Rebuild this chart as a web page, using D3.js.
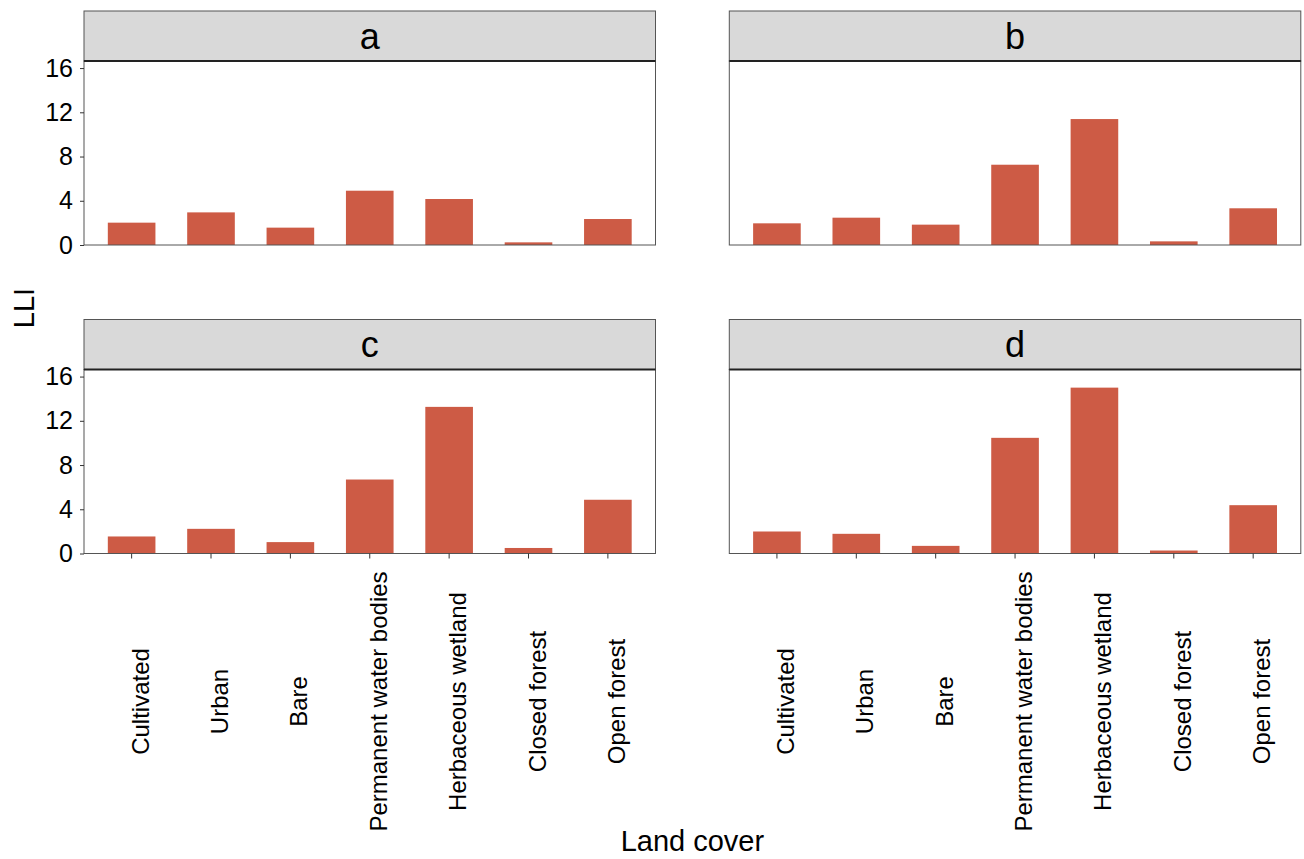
<!DOCTYPE html>
<html>
<head>
<meta charset="utf-8">
<script src="https://cdn.jsdelivr.net/npm/d3@7"></script>
<style>
  body { margin: 0; background: #fff; }
  text { font-family: "Liberation Sans", Arial, sans-serif; fill: #000; }
</style>
</head>
<body>
<div class="chart"></div>
<script>
var svgWidth = 1304;
var svgHeight = 859;

// data
var categories = ["Cultivated", "Urban", "Bare", "Permanent water bodies",
  "Herbaceous wetland", "Closed forest", "Open forest"];
var panelNames = ["a", "b", "c", "d"];
var valuesA = [2.02, 2.95, 1.57, 4.91, 4.16, 0.24, 2.35];
var valuesB = [1.96, 2.47, 1.84, 7.26, 11.39, 0.33, 3.32];
var valuesC = [1.54, 2.23, 1.03, 6.69, 13.26, 0.50, 4.86];
var valuesD = [1.99, 1.78, 0.69, 10.46, 15.0, 0.27, 4.37];
var yTicks = [0, 4, 8, 12, 16];

var panelValues = [valuesA, valuesB, valuesC, valuesD];

// layout
var colLeft = [84, 729.3];
var panelW = 571.5;
var stripTop = [11, 319.5];
var stripH = 50;
var plotH = 184;
var barColor = "#CD5B45";

var svg = d3.select(".chart")
  .append("svg")
  .attr("width", svgWidth)
  .attr("height", svgHeight);

var xScale = d3.scaleBand()
  .domain(categories)
  .range([0, panelW])
  .paddingInner(0.4)
  .paddingOuter(0.3);

var yScale = d3.scaleLinear()
  .domain([0, 16.64])
  .range([plotH, 0]);

panelNames.forEach(function(name, i) {
  var col = i % 2;
  var row = Math.floor(i / 2);
  var x0 = colLeft[col];
  var y0 = stripTop[row];

  var g = svg.append("g")
    .attr("transform", `translate(${x0}, ${y0})`);

  // strip
  g.append("rect")
    .attr("x", 0)
    .attr("y", 0)
    .attr("width", panelW)
    .attr("height", stripH)
    .attr("fill", "#d9d9d9")
    .attr("stroke", "#555")
    .attr("stroke-width", 1);

  g.append("text")
    .attr("x", panelW / 2)
    .attr("y", stripH / 2)
    .attr("dy", "0.35em")
    .attr("text-anchor", "middle")
    .style("font-size", "36px")
    .text(name);

  var plot = g.append("g")
    .attr("transform", `translate(0, ${stripH})`);

  // bars
  plot.selectAll("rect.bar")
    .data(panelValues[i])
    .enter()
    .append("rect")
    .attr("class", "bar")
    .attr("x", (d, j) => xScale(categories[j]))
    .attr("y", d => yScale(d))
    .attr("width", xScale.bandwidth())
    .attr("height", d => plotH - yScale(d))
    .attr("fill", barColor);

  // panel border
  plot.append("rect")
    .attr("width", panelW)
    .attr("height", plotH)
    .attr("fill", "none")
    .attr("stroke", "#555")
    .attr("stroke-width", 1);

  // strip bottom line
  plot.append("line")
    .attr("x1", 0)
    .attr("x2", panelW)
    .attr("y1", 0)
    .attr("y2", 0)
    .attr("stroke", "#222")
    .attr("stroke-width", 2);

  // y axis on the left column
  if (col === 0) {
    var leftAxis = d3.axisLeft(yScale)
      .tickValues(yTicks)
      .tickSize(4)
      .tickPadding(7);
    var ya = plot.append("g").call(leftAxis);
    ya.select(".domain").remove();
    ya.selectAll("line").attr("stroke", "#333");
    ya.selectAll("text")
      .style("font-size", "25px")
      .style("font-family", "'Liberation Sans', Arial, sans-serif")
      .attr("fill", "#000");
  }

  // x axis on the bottom row
  if (row === 1) {
    var bottomAxis = d3.axisBottom(xScale)
      .tickSize(5)
      .tickFormat("");
    var xa = plot.append("g")
      .attr("transform", `translate(0, ${plotH})`)
      .call(bottomAxis);
    xa.select(".domain").remove();
    xa.selectAll("line").attr("stroke", "#333");

    plot.selectAll("text.xlab")
      .data(categories)
      .enter()
      .append("text")
      .attr("class", "xlab")
      .attr("transform", d =>
        `translate(${xScale(d) + xScale.bandwidth() / 2 + 17}, ${plotH + 148}) rotate(-90)`)
      .attr("text-anchor", "middle")
      .style("font-size", "24px")
      .text(d => d);
  }
});

// axis titles
svg.append("text")
  .attr("transform", "translate(34, 308) rotate(-90)")
  .attr("text-anchor", "middle")
  .style("font-size", "29px")
  .text("LLI");

svg.append("text")
  .attr("x", (colLeft[0] + colLeft[1] + panelW) / 2)
  .attr("y", 851)
  .attr("text-anchor", "middle")
  .style("font-size", "29px")
  .text("Land cover");
</script>
</body>
</html>
